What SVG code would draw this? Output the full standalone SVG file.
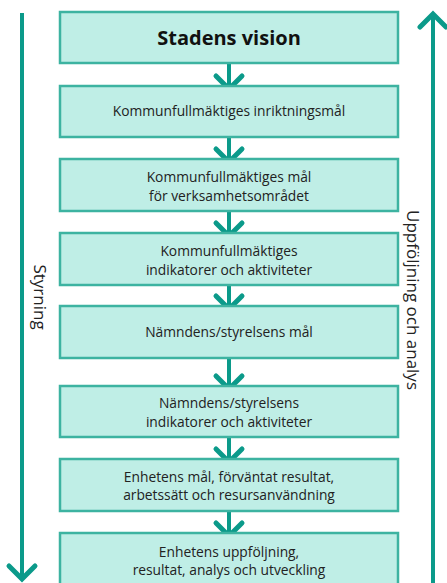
<svg xmlns="http://www.w3.org/2000/svg" width="447" height="583" viewBox="0 0 447 583">
<style>
.box{fill:#bfeee6;stroke:#3db3a1;stroke-width:2.5}
.t{font-family:"Open Sans","Noto Sans",sans-serif;font-size:13.8px;fill:#222;text-anchor:middle}
.h{font-family:"Open Sans","Noto Sans",sans-serif;font-size:20px;font-weight:bold;fill:#111;text-anchor:middle}
.side{font-family:"Open Sans","Noto Sans",sans-serif;font-size:17px;fill:#222;text-anchor:middle}
.ln{stroke:#0b9a8a;stroke-width:4;fill:none;stroke-linecap:butt}
.ch{stroke:#0b9a8a;stroke-width:5;fill:none;stroke-linecap:round;stroke-linejoin:miter}
</style>
<rect width="447" height="583" fill="#fff"/>
<g id="connectors">
<line class="ln" x1="22" y1="13" x2="22" y2="578"/>
<polyline class="ch" points="9,566 22,579 35,566"/>
<line class="ln" x1="433" y1="15" x2="433" y2="583"/>
<polyline class="ch" points="420,27 433,14 446,27"/>
<g>
<line class="ln" x1="229" y1="63" x2="229" y2="86"/>
<polyline class="ch" points="216,76 229,89 242,76"/>
<line class="ln" x1="229" y1="137" x2="229" y2="159"/>
<polyline class="ch" points="216,149 229,162 242,149"/>
<line class="ln" x1="229" y1="211" x2="229" y2="233"/>
<polyline class="ch" points="216,223 229,236 242,223"/>
<line class="ln" x1="229" y1="285" x2="229" y2="306"/>
<polyline class="ch" points="216,296 229,309 242,296"/>
<line class="ln" x1="229" y1="358" x2="229" y2="386"/>
<polyline class="ch" points="216,376 229,389 242,376"/>
<line class="ln" x1="229" y1="437" x2="229" y2="459"/>
<polyline class="ch" points="216,449 229,462 242,449"/>
<line class="ln" x1="229" y1="511" x2="229" y2="533"/>
<polyline class="ch" points="216,523 229,536 242,523"/>
</g>
</g>
<g id="n1"><rect class="box" x="60" y="12" width="338" height="51"/><text class="h" x="229" y="45">Stadens vision</text></g>
<g id="n2"><rect class="box" x="60" y="86" width="338" height="51"/><text class="t" x="229" y="116">Kommunfullmäktiges inriktningsmål</text></g>
<g id="n3"><rect class="box" x="60" y="159" width="338" height="52"/><text class="t" x="229" y="182">Kommunfullmäktiges mål</text><text class="t" x="229" y="201">för verksamhetsområdet</text></g>
<g id="n4"><rect class="box" x="60" y="233" width="338" height="52"/><text class="t" x="229" y="256">Kommunfullmäktiges</text><text class="t" x="229" y="275">indikatorer och aktiviteter</text></g>
<g id="n5"><rect class="box" x="60" y="306" width="338" height="52"/><text class="t" x="229" y="337">Nämndens/styrelsens mål</text></g>
<g id="n6"><rect class="box" x="60" y="386" width="338" height="51"/><text class="t" x="229" y="408">Nämndens/styrelsens</text><text class="t" x="229" y="427">indikatorer och aktiviteter</text></g>
<g id="n7"><rect class="box" x="60" y="459" width="338" height="52"/><text class="t" x="229" y="482">Enhetens mål, förväntat resultat,</text><text class="t" x="229" y="500">arbetssätt och resursanvändning</text></g>
<g id="n8"><rect class="box" x="60" y="533" width="338" height="60"/><text class="t" x="229" y="557">Enhetens uppföljning,</text><text class="t" x="229" y="575">resultat, analys och utveckling</text></g>
<g id="side-left"><text class="side" transform="translate(34,297) rotate(90)">Styrning</text></g>
<g id="side-right"><text class="side" transform="translate(407,300) rotate(90)">Uppföljning och analys</text></g>
</svg>
